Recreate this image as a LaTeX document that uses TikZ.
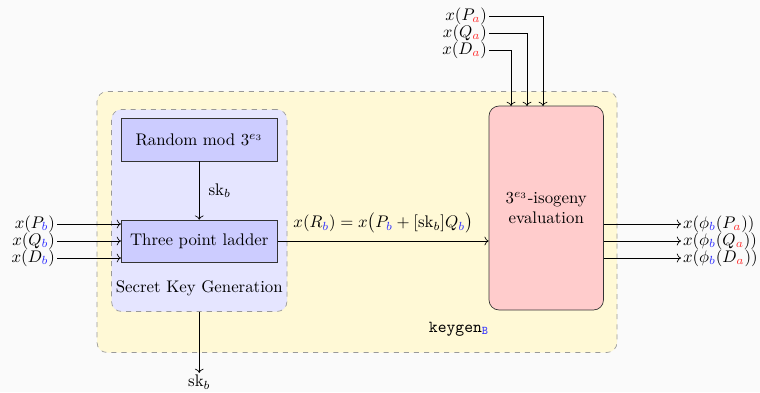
\documentclass[tikz,border=0pt]{standalone}
\usetikzlibrary{arrows.meta}
\definecolor{bcol}{RGB}{50,50,255}
\definecolor{acol}{RGB}{255,50,50}
\definecolor{yfill}{RGB}{255,249,214}
\definecolor{lfill}{RGB}{229,229,255}
\definecolor{bfill}{RGB}{204,204,255}
\definecolor{pfill}{RGB}{255,204,204}
\newcommand{\subb}{{\color{bcol}b}}
\newcommand{\suba}{{\color{acol}a}}
\begin{document}
\begin{tikzpicture}[x=0.595pt,y=-0.595pt,
  dbox/.style={draw=gray!80,dashed,rounded corners=6pt,inner sep=0pt},
  blk/.style={draw=black!80,fill=bfill,inner sep=0pt,minimum width=156*0.595pt,minimum height=42*0.595pt},
  lbl/.style={inner sep=1pt},
  >=To]
\fill[black!2] (0,0) rectangle (760,392);
\useasboundingbox (0,0) rectangle (760,392);
\node[dbox,fill=yfill,minimum width=520*0.595pt,minimum height=261*0.595pt] (outer) at (357,222) {};
\node[dbox,fill=lfill,minimum width=175.5*0.595pt,minimum height=202*0.595pt] (skg) at (199.25,210.5) {};
\node[blk,minimum height=43*0.595pt] (rnd) at (199.25,139.5) {Random mod $3^{e_3}$};
\node[blk] (ladder) at (199.25,241) {Three point ladder};
\node[lbl] (skglbl) at (199.25,288) {Secret Key Generation};
\node[draw=black!80,fill=pfill,rounded corners=6pt,minimum width=114.5*0.595pt,minimum height=204*0.595pt,align=center] (pink) at (546.25,208) {$3^{e_3}$-isogeny\\evaluation};
\node[lbl] (kg) at (459,329) {\texttt{keygen}$_{\mathtt{\color{bcol}B}}$};
% left inputs
\node[lbl,anchor=east] (pb) at (57,224) {$x(P_\subb)$};
\node[lbl,anchor=east] (qb) at (57,241) {$x(Q_\subb)$};
\node[lbl,anchor=east] (db) at (57,258) {$x(D_\subb)$};
% top inputs
\node[lbl,anchor=east] (pa) at (489,16) {$x(P_\suba)$};
\node[lbl,anchor=east] (qa) at (489,33) {$x(Q_\suba)$};
\node[lbl,anchor=east] (da) at (489,50) {$x(D_\suba)$};
\coordinate (tp) at (543,106);
\coordinate (tq) at (527,106);
\coordinate (td) at (511,106);
% outputs
\node[lbl,anchor=west] (o1) at (681,224) {$x(\phi_\subb(P_\suba))$};
\node[lbl,anchor=west] (o2) at (681,241) {$x(\phi_\subb(Q_\suba))$};
\node[lbl,anchor=west] (o3) at (681,258) {$x(\phi_\subb(D_\suba))$};
% sk bottom
\node[lbl] (skout) at (199.25,382) {$\mathrm{sk}_b$};
% connectors
\draw[->] (rnd) -- (ladder) node[midway,right=2pt] {$\mathrm{sk}_b$};
\draw[->] (pb.east) -- (ladder.west |- pb.east);
\draw[->] (qb.east) -- (ladder.west |- qb.east);
\draw[->] (db.east) -- (ladder.west |- db.east);
\draw[->] (pa.east) -| (tp);
\draw[->] (qa.east) -| (tq);
\draw[->] (da.east) -| (td);
\draw[->] (ladder.east) -- (pink.west |- ladder.east) node[midway,above=1pt] {$x(R_\subb)=x\bigl(P_\subb+[\mathrm{sk}_b]Q_\subb\bigr)$};
\draw[->] (pink.east |- o1.west) -- (o1.west);
\draw[->] (pink.east |- o2.west) -- (o2.west);
\draw[->] (pink.east |- o3.west) -- (o3.west);
\draw[->] (skg.south) -- (skout.north);
\end{tikzpicture}
\end{document}
